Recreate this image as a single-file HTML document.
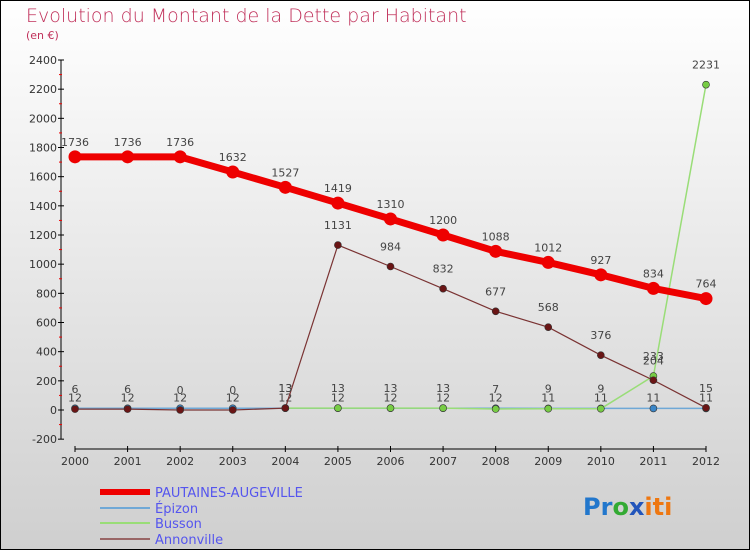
<!DOCTYPE html>
<html><head><meta charset="utf-8"><style>
body{margin:0}
#c{width:750px;height:550px;position:relative;overflow:hidden;font-family:"DejaVu Sans","Liberation Sans",sans-serif}
</style></head><body>
<div id="c">
<svg id="s" width="750" height="550" xmlns="http://www.w3.org/2000/svg">
<defs><linearGradient id="bg" x1="0" y1="0" x2="0" y2="1"><stop offset="0" stop-color="#ffffff"/><stop offset="1" stop-color="#cfcfcf"/></linearGradient></defs>
<rect x="0.5" y="0.5" width="749" height="549" fill="url(#bg)" stroke="#000"/>
<text x="26" y="22" font-size="19" fill="#c0305a" font-weight="300">Evolution du Montant de la Dette par Habitant</text>
<text x="26" y="39" font-size="11" fill="#c0305a">(en €)</text>
<g id="axes"></g><g id="series"></g>
<g font-size="13" fill="#5555ee">
<line x1="100" y1="492" x2="150" y2="492" stroke="#ee0000" stroke-width="6"/>
<text x="155" y="497">PAUTAINES-AUGEVILLE</text>
<line x1="100" y1="508" x2="150" y2="508" stroke="#6fa8d6" stroke-width="2"/>
<text x="155" y="513">Épizon</text>
<line x1="100" y1="523" x2="150" y2="523" stroke="#99dd77" stroke-width="2"/>
<text x="155" y="528">Busson</text>
<line x1="100" y1="539" x2="150" y2="539" stroke="#996666" stroke-width="2"/>
<text x="155" y="544">Annonville</text>
</g>
<text x="583" y="515" font-size="24" font-weight="bold"><tspan fill="#2277cc">Pr</tspan><tspan fill="#33aa33">o</tspan><tspan fill="#2255bb">x</tspan><tspan fill="#ee7711">iti</tspan></text>
</svg>
</div>
<script>
const years=[2000,2001,2002,2003,2004,2005,2006,2007,2008,2009,2010,2011,2012];
const yTicks=[-200,0,200,400,600,800,1000,1200,1400,1600,1800,2000,2200,2400];
const pautaines=[1736,1736,1736,1632,1527,1419,1310,1200,1088,1012,927,834,764];
const epizon=[12,12,12,12,12,12,12,12,12,11,11,11,11];
const busson=[null,null,null,null,13,13,13,13,7,9,9,233,2231];
const annonville=[6,6,0,0,13,1131,984,832,677,568,376,204,15];
const NS="http://www.w3.org/2000/svg";
const X=i=>75+i*(706-75)/12;
const Y=v=>410-v*(410-60)/2400;
function mk(t,a,p){const e=document.createElementNS(NS,t);for(const k in a)e.setAttribute(k,a[k]);p.appendChild(e);return e;}
const ax=document.getElementById('axes'),sg=document.getElementById('series');
let l=mk('line',{x1:61,y1:Y(2400),x2:61,y2:Y(-200),stroke:'#000'},ax);


yTicks.forEach(v=>{
 let t=mk('line',{x1:58,x2:64,y1:Y(v),y2:Y(v),stroke:'#000'},ax);
 
 
 let m=mk('line',{x1:59,x2:62,y1:Y(v+100),y2:Y(v+100),stroke:'#e00'},ax);
 if(v==2400)m.remove();
 
 
 let tx=mk('text',{x:57,y:Y(v)+4,'text-anchor':'end','font-size':11,fill:'#333'},ax);tx.textContent=v;
 
 
});
l=mk('line',{x1:75,y1:449,x2:706,y2:449,stroke:'#000'},ax);


years.forEach((yr,i)=>{
 let t=mk('line',{x1:X(i),x2:X(i),y1:446,y2:452,stroke:'#000'},ax);
 
 
 let tx=mk('text',{x:X(i),y:465,'text-anchor':'middle','font-size':11,fill:'#333'},ax);tx.textContent=yr;
 
 
});
function series(name,data,color,w,r,dot,dy){
 const g=mk('g',{},sg);
 
 
 let d='';data.forEach((v,i)=>{if(v==null)return;d+=(d?'L':'M')+X(i)+','+Y(v);});
 mk('path',{d:d,fill:'none',stroke:color,'stroke-width':w},g);
 data.forEach((v,i)=>{if(v==null)return;
  let c=mk('circle',{cx:X(i),cy:Y(v),r:r,fill:dot,stroke:'#333','stroke-width':r>5?0:0.6},g);
  
  
  let tx=mk('text',{x:X(i),y:Y(v)-dy,'text-anchor':'middle','font-size':11,fill:'#444'},g);tx.textContent=v;
  
  
 });
}
series('epizon',epizon,'#6fa8d6',1.5,3.5,'#3a86c8',7);
series('busson',busson,'#99dd77',1.5,3.5,'#77cc44',16);
series('annonville',annonville,'#7a3333',1.2,3.5,'#6a1515',16);
series('pautaines',pautaines,'#ee0000',7,6.5,'#ee0000',11);
</script>
</body></html>
